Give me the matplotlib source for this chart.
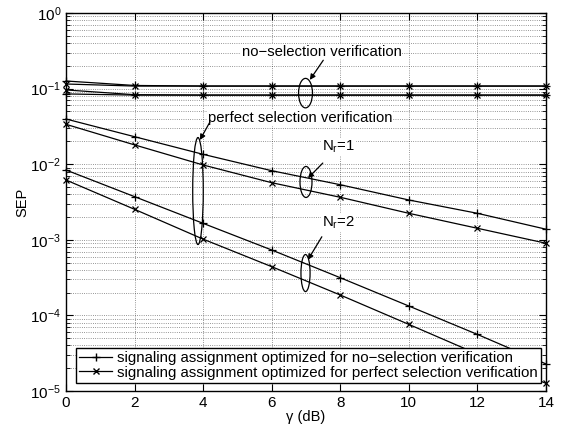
import numpy as np
import matplotlib
matplotlib.use("Agg")
import matplotlib.pyplot as plt
from matplotlib.patches import Ellipse

plt.rcParams['font.family'] = ['Liberation Sans', 'DejaVu Sans']
plt.rcParams['mathtext.fontset'] = 'custom'
plt.rcParams['mathtext.rm'] = 'Liberation Sans'
plt.rcParams['mathtext.it'] = 'Liberation Sans'

gamma = [0, 2, 4, 6, 8, 10, 12, 14]

# no-selection verification
ns_plus_1 = [0.126, 0.110, 0.108, 0.108, 0.108, 0.108, 0.108, 0.108]
ns_cross_1 = [0.115, 0.108, 0.108, 0.108, 0.108, 0.108, 0.108, 0.108]
ns_plus_2 = [0.085, 0.082, 0.082, 0.082, 0.082, 0.082, 0.082, 0.082]
ns_cross_2 = [0.096, 0.083, 0.082, 0.082, 0.082, 0.082, 0.082, 0.082]

# perfect selection verification
ps_plus_1 = [0.0396, 0.0231, 0.0135, 0.0082, 0.00535, 0.00336, 0.00224, 0.00138]
ps_cross_1 = [0.0337, 0.0180, 0.00976, 0.00569, 0.00365, 0.00224, 0.00142, 0.00090]
ps_plus_2 = [0.00838, 0.00372, 0.00165, 0.000733, 0.000315, 0.000133, 5.6e-5, 2.28e-5]
ps_cross_2 = [0.00618, 0.00253, 0.00102, 0.000441, 0.000186, 7.6e-5, 3.08e-5, 1.26e-5]

labels = ['signaling assignment optimized for no\u2212selection verification',
          'signaling assignment optimized for perfect selection verification']

fig = plt.figure(figsize=(5.61, 4.30), dpi=100)
ax = fig.add_axes([0.1176, 0.0907, 0.8557, 0.8791])

style = dict(color='black', linewidth=0.9, markersize=6, markeredgewidth=0.9, clip_on=False)
for ys in [ns_plus_1, ns_plus_2, ps_plus_1, ps_plus_2]:
    ax.semilogy(gamma, ys, marker='+', **style)
for ys in [ns_cross_1, ns_cross_2, ps_cross_1, ps_cross_2]:
    ax.semilogy(gamma, ys, marker='x', markersize=4.5, color='black', linewidth=0.9,
                markeredgewidth=0.9, clip_on=False)

ax.set_xlim(0, 14)
ax.set_ylim(1e-5, 1)
ax.set_xticks(gamma)
ax.set_xlabel('\u03b3 (dB)', fontsize=10.5, labelpad=0)
ax.set_ylabel('SEP', fontsize=10.5, labelpad=1)
ax.tick_params(which='both', direction='in', top=True, right=True, labelsize=11)
ax.tick_params(which='major', length=5)
ax.tick_params(which='minor', length=3)
ax.grid(True, which='major', linestyle=':', color='black', linewidth=0.6, alpha=0.55)
ax.grid(True, which='minor', axis='y', linestyle=':', color='black', linewidth=0.6, alpha=0.55)
for sp in ax.spines.values():
    sp.set_linewidth(1.0)

# legend
h1, = ax.plot([], [], color='black', marker='+', linewidth=0.9, markersize=6)
h2, = ax.plot([], [], color='black', marker='x', linewidth=0.9, markersize=4.5)
leg = ax.legend([h1, h2], labels, loc='lower left', bbox_to_anchor=(0.021, 0.022),
                borderaxespad=0, fontsize=10.8, handlelength=2.2, handletextpad=0.35,
                labelspacing=0.05, borderpad=0.2, fancybox=False, framealpha=1)
leg.get_frame().set_edgecolor('black')
leg.get_frame().set_linewidth(1.0)

# ellipses and annotations (axes fraction)
ellipses = [(0.499, 0.788, 0.029, 0.078),
            (0.275, 0.529, 0.022, 0.283),
            (0.500, 0.553, 0.025, 0.082),
            (0.499, 0.312, 0.019, 0.098)]
for cx, cy, w, h in ellipses:
    ax.add_patch(Ellipse((cx, cy), w, h, transform=ax.transAxes, fill=False,
                         edgecolor='black', linewidth=0.9, zorder=5))

notes = [('no\u2212selection verification', (0.366, 0.898), (0.536, 0.875), (0.508, 0.823)),
         ('perfect selection verification', (0.296, 0.722), (0.300, 0.712), (0.279, 0.664)),
         ('N$_r$=1', (0.533, 0.646), (0.535, 0.603), (0.504, 0.563)),
         ('N$_r$=2', (0.533, 0.444), (0.533, 0.408), (0.504, 0.347))]
for txt, pos, start, tip in notes:
    ax.text(pos[0], pos[1], txt, transform=ax.transAxes, fontsize=10.7, va='center', ha='left',
            bbox=dict(facecolor='white', edgecolor='none', pad=0.5), zorder=6)
    ax.annotate('', xy=tip, xytext=start, xycoords='axes fraction', textcoords='axes fraction',
                arrowprops=dict(arrowstyle='-|>', color='black', linewidth=0.9,
                                mutation_scale=8, shrinkA=0, shrinkB=0), zorder=6)

fig.savefig('out.png', dpi=100)
